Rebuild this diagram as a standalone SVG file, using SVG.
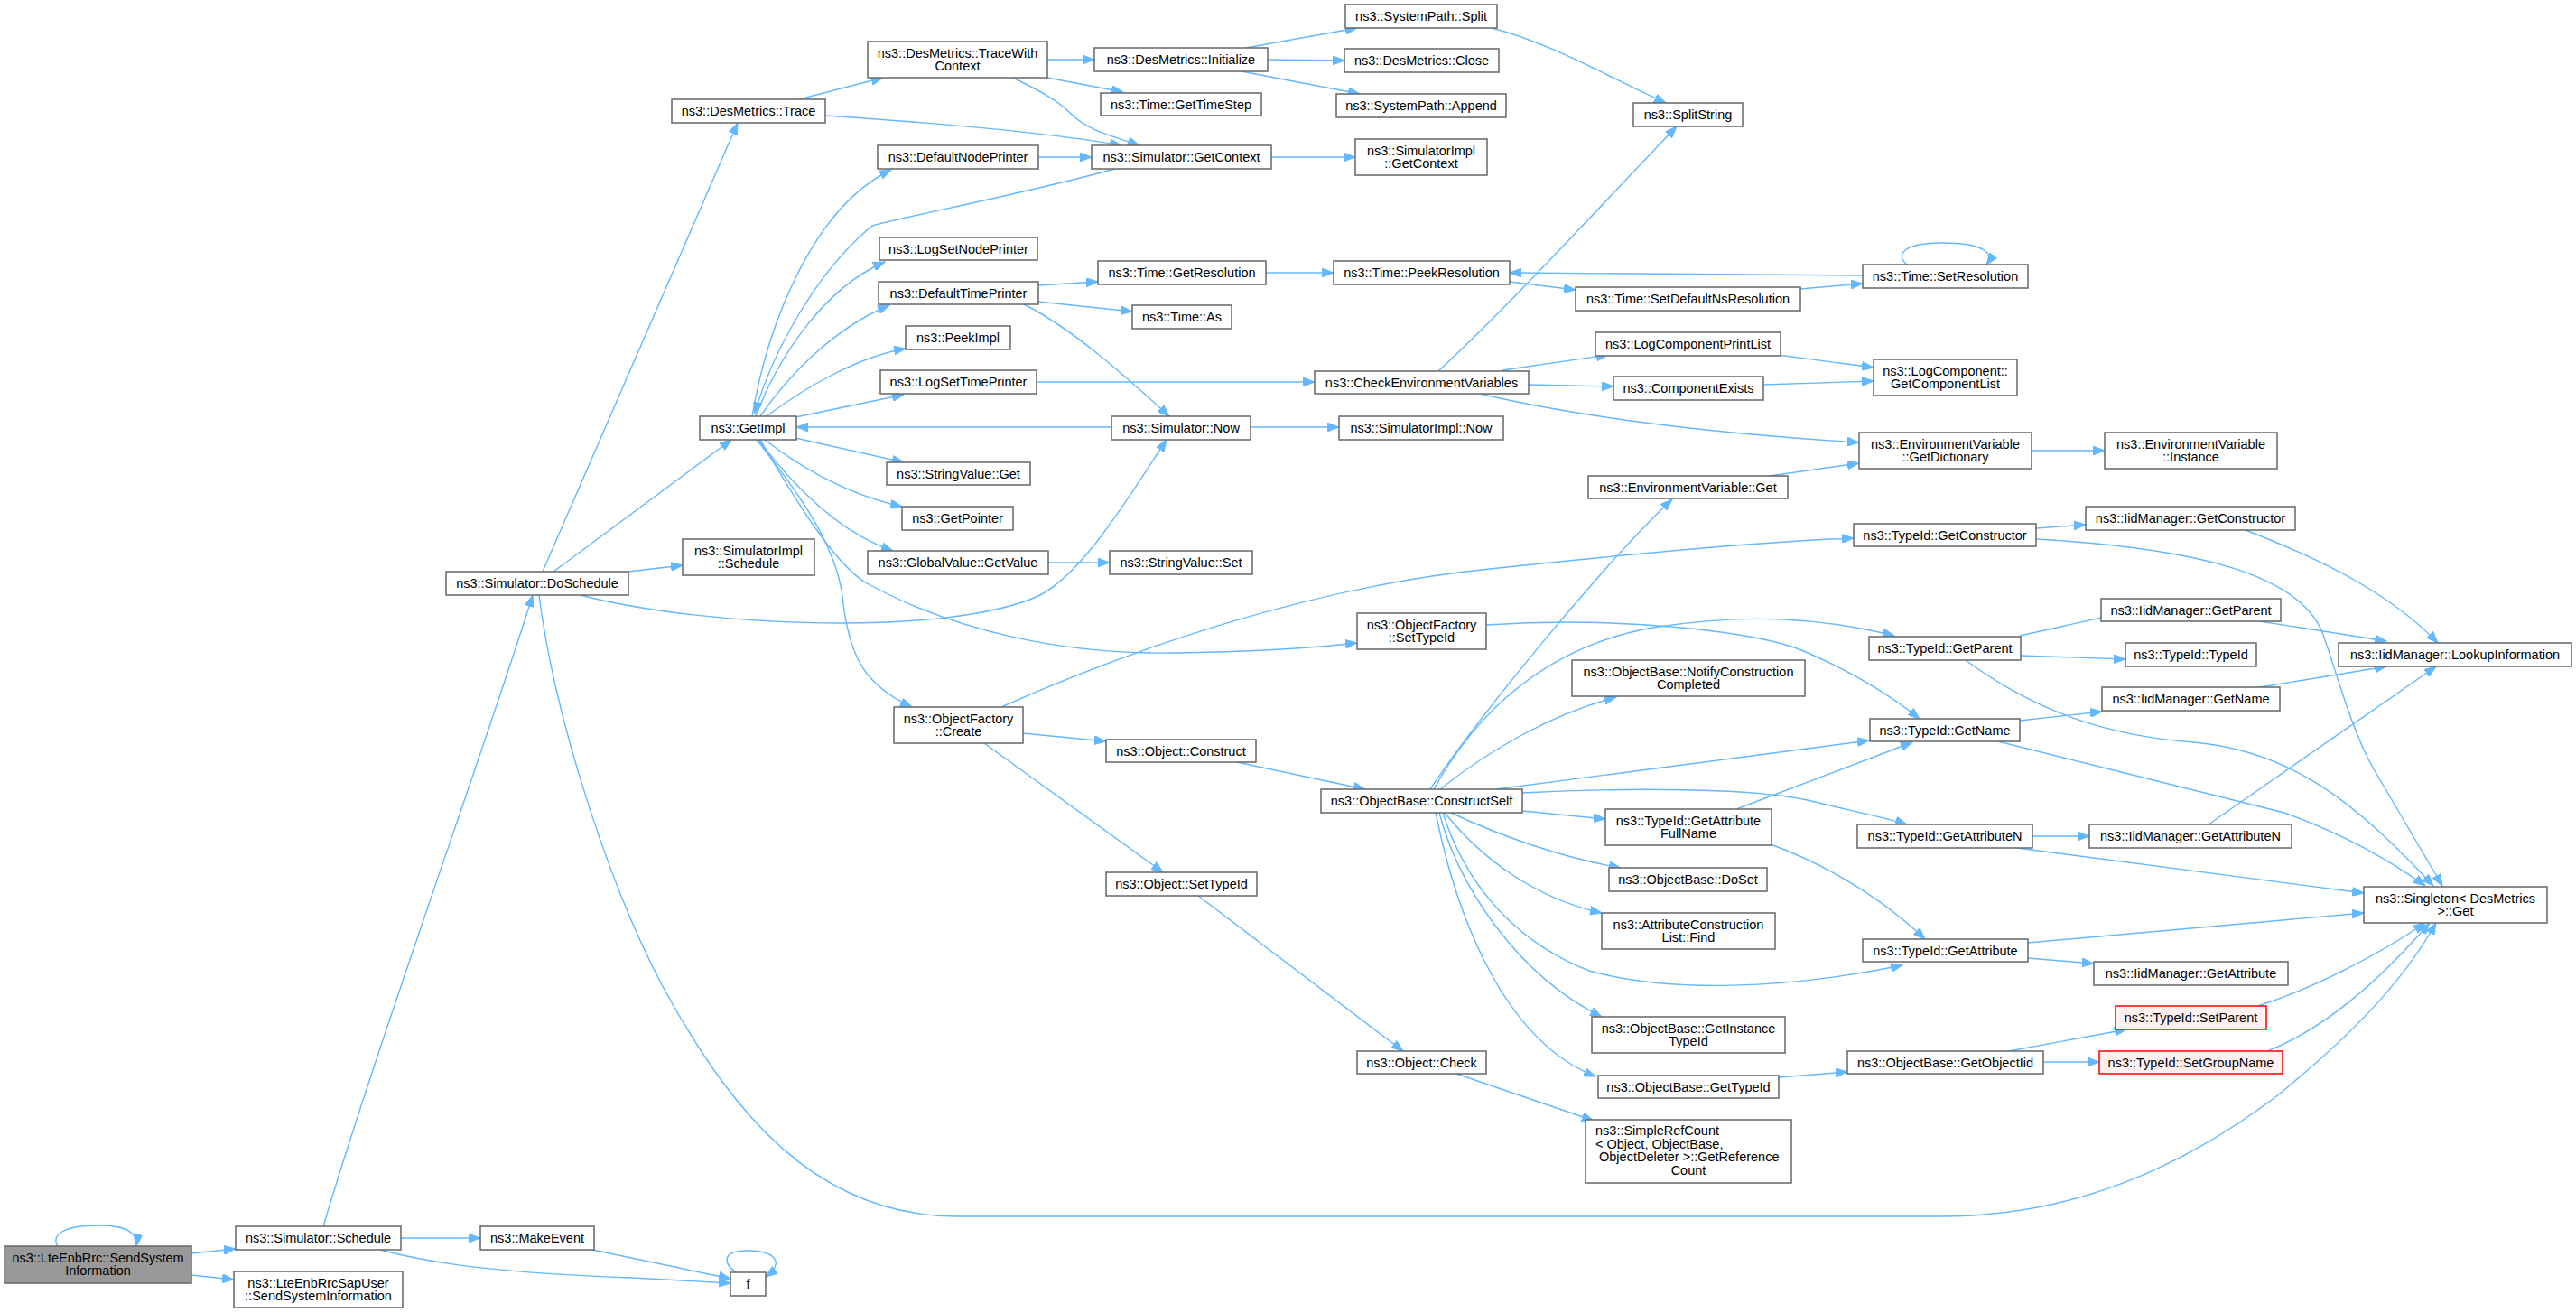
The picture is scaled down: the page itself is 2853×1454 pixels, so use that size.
<svg xmlns="http://www.w3.org/2000/svg" width="2853" height="1454" viewBox="0 0 2853 1454">
<style>
.n rect{fill:#fff;stroke:#666;stroke-width:1.5}
.n.root rect{fill:#999}
.n.red rect{fill:#FFF0F0;stroke:#F00}
.n text{font-family:"Liberation Sans",Arial,sans-serif;font-size:14.5px;fill:#000;text-anchor:middle}
.n text.l{text-anchor:start}
.e path{fill:none;stroke:#63B8FF;stroke-width:1.4;marker-end:url(#a)}
</style>
<defs>
<marker id="a" markerUnits="userSpaceOnUse" markerWidth="14" markerHeight="10" refX="13" refY="5" orient="auto"><path d="M0,0 L13,5 L0,10 z" fill="#63B8FF" stroke="#63B8FF" stroke-width="1"/></marker>
</defs>
<rect width="2853" height="1454" fill="#fff"/>
<g id="edges" class="e">
<path d="M64,1380 C56,1368 70,1357 108,1357 C140,1357 153,1365 151,1380"/>
<path d="M212,1388 L261,1383"/>
<path d="M212,1412 L259,1417"/>
<path d="M358,1358 C420,1150 540,820 590,659"/>
<path d="M444,1371 L532,1371"/>
<path d="M421,1384 C480,1400 560,1410 700,1415 L809,1421"/>
<path d="M656,1384 L809,1416"/>
<path d="M815,1409 C800,1398 800,1385 828,1385 C858,1385 870,1398 848,1414"/>
<path d="M601,633 L817,136"/>
<path d="M613,633 L810,487"/>
<path d="M696,633 L756,626"/>
<path d="M643,659 C780,695 1050,705 1150,660 C1200,635 1250,550 1292,487"/>
<path d="M597,659 C615,800 680,1000 746,1114 C810,1225 900,1347 1060,1347 L2150,1347 C2300,1347 2420,1290 2520,1215 C2600,1150 2660,1090 2698,1022"/>
<path d="M833,461 C850,360 900,230 987,188"/>
<path d="M837,461 C860,400 910,320 980,290"/>
<path d="M842,461 C870,420 920,365 985,338"/>
<path d="M849,461 C890,430 950,395 1003,386"/>
<path d="M881,462 L1001,437"/>
<path d="M1235,187 C1120,218 1000,240 966,250 C905,300 855,390 836,458"/>
<path d="M1231,473 L882,473"/>
<path d="M881,485 L1001,512"/>
<path d="M847,487 C890,520 940,548 999,561"/>
<path d="M840,487 C880,540 930,590 989,610"/>
<path d="M838,487 C880,540 925,600 933,660 C940,730 960,760 1010,783"/>
<path d="M842,487 C890,570 930,630 962,647 C1060,700 1180,725 1300,723 C1380,722 1450,718 1503,712"/>
<path d="M881,111 L978,86"/>
<path d="M914,128 C1020,135 1150,145 1242,161"/>
<path d="M1160,66 L1212,66"/>
<path d="M1160,86 L1244,102"/>
<path d="M1122,86 C1150,100 1170,110 1185,125 C1205,145 1230,150 1262,161"/>
<path d="M1380,53 L1503,31"/>
<path d="M1404,66 L1489,67"/>
<path d="M1375,79 L1506,104"/>
<path d="M1408,174 L1501,174"/>
<path d="M1652,31 C1720,48 1790,90 1845,114"/>
<path d="M1150,174 L1209,174"/>
<path d="M1150,316 L1216,312"/>
<path d="M1150,334 L1254,345"/>
<path d="M1134,337 C1190,365 1250,420 1295,461"/>
<path d="M1402,302 L1477,302"/>
<path d="M1672,312 L1745,321"/>
<path d="M1994,320 L2063,314"/>
<path d="M2063,305 L1672,302"/>
<path d="M2112,293 C2100,283 2105,269 2152,269 C2195,269 2210,280 2200,293"/>
<path d="M1148,423 L1456,423"/>
<path d="M1593,411 C1680,330 1780,220 1857,140"/>
<path d="M1664,410 L1781,393"/>
<path d="M1693,426 L1787,428"/>
<path d="M1639,436 C1750,462 1900,480 2059,490"/>
<path d="M1969,393 L2075,407"/>
<path d="M1953,426 L2075,422"/>
<path d="M1385,473 L1483,473"/>
<path d="M2250,499 L2331,499"/>
<path d="M1960,527 L2059,513"/>
<path d="M1161,623 L1229,623"/>
<path d="M1109,783 C1250,720 1450,650 1650,630 C1800,614 1950,600 2053,596"/>
<path d="M1133,812 L1225,821"/>
<path d="M1090,823 L1288,966"/>
<path d="M1646,692 C1800,682 1950,700 2000,722 C2060,748 2100,775 2126,796"/>
<path d="M1584,874 C1640,790 1780,620 1852,553"/>
<path d="M1588,874 C1640,780 1720,715 1830,695 C1940,678 2020,685 2098,704"/>
<path d="M1595,874 C1650,830 1720,790 1790,772"/>
<path d="M1657,874 L2070,820"/>
<path d="M1686,878 C1800,872 1950,872 2010,888 C2060,900 2090,906 2112,913"/>
<path d="M1686,898 L1778,907"/>
<path d="M1607,900 C1660,925 1730,950 1795,961"/>
<path d="M1600,900 C1640,950 1700,995 1774,1011"/>
<path d="M1598,900 C1620,970 1670,1040 1760,1075 C1850,1100 1980,1095 2107,1069"/>
<path d="M1594,900 C1615,980 1680,1080 1774,1126"/>
<path d="M1590,900 C1610,1000 1660,1150 1767,1192"/>
<path d="M1923,896 L2118,822"/>
<path d="M1961,935 C2030,960 2090,1000 2132,1040"/>
<path d="M2255,585 L2310,581"/>
<path d="M2255,597 C2430,607 2545,635 2572,700 C2588,745 2605,810 2628,850 L2705,981"/>
<path d="M2237,704 L2345,680"/>
<path d="M2238,726 L2354,730"/>
<path d="M2177,731 C2250,785 2330,815 2430,822 C2540,832 2610,890 2695,981"/>
<path d="M2237,798 L2328,788"/>
<path d="M2213,821 L2530,900 C2600,925 2650,955 2686,981"/>
<path d="M2487,587 C2580,623 2650,660 2700,712"/>
<path d="M2503,688 L2643,710"/>
<path d="M2503,761 L2643,738"/>
<path d="M2446,913 L2698,738"/>
<path d="M2251,926 L2314,926"/>
<path d="M2234,939 L2618,989"/>
<path d="M2246,1044 L2618,1011"/>
<path d="M2246,1061 L2319,1067"/>
<path d="M2225,1164 L2355,1140"/>
<path d="M2263,1176 L2325,1176"/>
<path d="M2501,1114 C2560,1095 2630,1060 2686,1022"/>
<path d="M2511,1164 C2580,1137 2640,1080 2691,1022"/>
<path d="M1970,1193 L2046,1187"/>
<path d="M1327,992 L1554,1164"/>
<path d="M1613,1189 L1765,1241"/>
<path d="M1370,844 L1512,874"/>
</g>
<g id="n_root" class="n root"><rect x="5" y="1380" width="207" height="41"/><text x="108.5" y="1398">ns3::LteEnbRrc::SendSystem</text><text x="108.5" y="1412">Information</text></g>
<g id="n_sched" class="n"><rect x="261" y="1358" width="183" height="26"/><text x="352.5" y="1376">ns3::Simulator::Schedule</text></g>
<g id="n_sapuser" class="n"><rect x="259" y="1408" width="187" height="40"/><text x="352.5" y="1426">ns3::LteEnbRrcSapUser</text><text x="352.5" y="1440">::SendSystemInformation</text></g>
<g id="n_doschedule" class="n"><rect x="494" y="633" width="202" height="26"/><text x="595" y="651">ns3::Simulator::DoSchedule</text></g>
<g id="n_makeevent" class="n"><rect x="532" y="1358" width="126" height="26"/><text x="595" y="1376">ns3::MakeEvent</text></g>
<g id="n_f" class="n"><rect x="809" y="1409" width="39" height="26"/><text x="828.5" y="1427">f</text></g>
<g id="n_trace" class="n"><rect x="744" y="110" width="170" height="26"/><text x="829" y="128">ns3::DesMetrics::Trace</text></g>
<g id="n_getimpl" class="n"><rect x="775" y="461" width="107" height="26"/><text x="828.5" y="479">ns3::GetImpl</text></g>
<g id="n_simimplsched" class="n"><rect x="756" y="597" width="146" height="40"/><text x="829" y="615">ns3::SimulatorImpl</text><text x="829" y="629">::Schedule</text></g>
<g id="n_tracewc" class="n"><rect x="961" y="46" width="199" height="40"/><text x="1060.5" y="64">ns3::DesMetrics::TraceWith</text><text x="1060.5" y="78">Context</text></g>
<g id="n_defnode" class="n"><rect x="972" y="161" width="178" height="26"/><text x="1061" y="179">ns3::DefaultNodePrinter</text></g>
<g id="n_logsetnode" class="n"><rect x="974" y="263" width="175" height="25"/><text x="1061.5" y="281">ns3::LogSetNodePrinter</text></g>
<g id="n_deftime" class="n"><rect x="973" y="312" width="177" height="25"/><text x="1061.5" y="330">ns3::DefaultTimePrinter</text></g>
<g id="n_peekimpl" class="n"><rect x="1003" y="361" width="116" height="26"/><text x="1061" y="379">ns3::PeekImpl</text></g>
<g id="n_logsettime" class="n"><rect x="975" y="410" width="173" height="26"/><text x="1061.5" y="428">ns3::LogSetTimePrinter</text></g>
<g id="n_strget" class="n"><rect x="982" y="512" width="159" height="25"/><text x="1061.5" y="530">ns3::StringValue::Get</text></g>
<g id="n_getpointer" class="n"><rect x="999" y="561" width="123" height="26"/><text x="1060.5" y="579">ns3::GetPointer</text></g>
<g id="n_gvget" class="n"><rect x="961" y="610" width="200" height="26"/><text x="1061" y="628">ns3::GlobalValue::GetValue</text></g>
<g id="n_ofcreate" class="n"><rect x="990" y="783" width="143" height="40"/><text x="1061.5" y="801">ns3::ObjectFactory</text><text x="1061.5" y="815">::Create</text></g>
<g id="n_init" class="n"><rect x="1212" y="53" width="192" height="26"/><text x="1308" y="71">ns3::DesMetrics::Initialize</text></g>
<g id="n_timestep" class="n"><rect x="1219" y="103" width="178" height="25"/><text x="1308" y="121">ns3::Time::GetTimeStep</text></g>
<g id="n_simgetctx" class="n"><rect x="1209" y="161" width="199" height="26"/><text x="1308.5" y="179">ns3::Simulator::GetContext</text></g>
<g id="n_getres" class="n"><rect x="1216" y="289" width="186" height="26"/><text x="1309" y="307">ns3::Time::GetResolution</text></g>
<g id="n_timeas" class="n"><rect x="1254" y="338" width="110" height="26"/><text x="1309" y="356">ns3::Time::As</text></g>
<g id="n_simnow" class="n"><rect x="1231" y="461" width="154" height="26"/><text x="1308" y="479">ns3::Simulator::Now</text></g>
<g id="n_strset" class="n"><rect x="1229" y="610" width="158" height="26"/><text x="1308" y="628">ns3::StringValue::Set</text></g>
<g id="n_objconstruct" class="n"><rect x="1225" y="819" width="166" height="25"/><text x="1308" y="837">ns3::Object::Construct</text></g>
<g id="n_objsettypeid" class="n"><rect x="1225" y="966" width="167" height="26"/><text x="1308.5" y="984">ns3::Object::SetTypeId</text></g>
<g id="n_split" class="n"><rect x="1490" y="5" width="168" height="26"/><text x="1574" y="23">ns3::SystemPath::Split</text></g>
<g id="n_close" class="n"><rect x="1489" y="54" width="171" height="26"/><text x="1574.5" y="72">ns3::DesMetrics::Close</text></g>
<g id="n_append" class="n"><rect x="1480" y="104" width="188" height="26"/><text x="1574" y="122">ns3::SystemPath::Append</text></g>
<g id="n_simimplctx" class="n"><rect x="1501" y="154" width="146" height="40"/><text x="1574" y="172">ns3::SimulatorImpl</text><text x="1574" y="186">::GetContext</text></g>
<g id="n_peekres" class="n"><rect x="1477" y="289" width="195" height="26"/><text x="1574.5" y="307">ns3::Time::PeekResolution</text></g>
<g id="n_checkenv" class="n"><rect x="1456" y="411" width="237" height="25"/><text x="1574.5" y="429">ns3::CheckEnvironmentVariables</text></g>
<g id="n_simimplnow" class="n"><rect x="1483" y="461" width="182" height="26"/><text x="1574" y="479">ns3::SimulatorImpl::Now</text></g>
<g id="n_ofsettypeid" class="n"><rect x="1503" y="679" width="143" height="40"/><text x="1574.5" y="697">ns3::ObjectFactory</text><text x="1574.5" y="711">::SetTypeId</text></g>
<g id="n_constructself" class="n"><rect x="1463" y="874" width="223" height="26"/><text x="1574.5" y="892">ns3::ObjectBase::ConstructSelf</text></g>
<g id="n_objcheck" class="n"><rect x="1503" y="1164" width="143" height="25"/><text x="1574.5" y="1182">ns3::Object::Check</text></g>
<g id="n_splitstring" class="n"><rect x="1809" y="114" width="121" height="26"/><text x="1869.5" y="132">ns3::SplitString</text></g>
<g id="n_setdefns" class="n"><rect x="1745" y="318" width="249" height="26"/><text x="1869.5" y="336">ns3::Time::SetDefaultNsResolution</text></g>
<g id="n_logcpl" class="n"><rect x="1767" y="368" width="205" height="26"/><text x="1869.5" y="386">ns3::LogComponentPrintList</text></g>
<g id="n_compexists" class="n"><rect x="1787" y="417" width="166" height="26"/><text x="1870" y="435">ns3::ComponentExists</text></g>
<g id="n_envget" class="n"><rect x="1759" y="527" width="221" height="25"/><text x="1869.5" y="545">ns3::EnvironmentVariable::Get</text></g>
<g id="n_notify" class="n"><rect x="1741" y="731" width="258" height="40"/><text x="1870" y="749">ns3::ObjectBase::NotifyConstruction</text><text x="1870" y="763">Completed</text></g>
<g id="n_gafn" class="n"><rect x="1778" y="896" width="184" height="40"/><text x="1870" y="914">ns3::TypeId::GetAttribute</text><text x="1870" y="928">FullName</text></g>
<g id="n_doset" class="n"><rect x="1782" y="961" width="175" height="26"/><text x="1869.5" y="979">ns3::ObjectBase::DoSet</text></g>
<g id="n_acfind" class="n"><rect x="1774" y="1011" width="192" height="40"/><text x="1870" y="1029">ns3::AttributeConstruction</text><text x="1870" y="1043">List::Find</text></g>
<g id="n_getinst" class="n"><rect x="1763" y="1126" width="214" height="40"/><text x="1870" y="1144">ns3::ObjectBase::GetInstance</text><text x="1870" y="1158">TypeId</text></g>
<g id="n_obgettypeid" class="n"><rect x="1770" y="1191" width="200" height="25"/><text x="1870" y="1209">ns3::ObjectBase::GetTypeId</text></g>
<g id="n_simpleref" class="n"><rect x="1756" y="1240" width="228" height="70"/><text class="l" x="1767" y="1257">ns3::SimpleRefCount</text><text class="l" x="1767" y="1272">&lt; Object, ObjectBase,</text><text class="l" x="1771" y="1286">ObjectDeleter &gt;::GetReference</text><text x="1870" y="1301">Count</text></g>
<g id="n_setres" class="n"><rect x="2063" y="293" width="183" height="26"/><text x="2154.5" y="311">ns3::Time::SetResolution</text></g>
<g id="n_getcomplist" class="n"><rect x="2075" y="398" width="159" height="40"/><text x="2154.5" y="416">ns3::LogComponent::</text><text x="2154.5" y="430">GetComponentList</text></g>
<g id="n_getdict" class="n"><rect x="2059" y="479" width="191" height="40"/><text x="2154.5" y="497">ns3::EnvironmentVariable</text><text x="2154.5" y="511">::GetDictionary</text></g>
<g id="n_tgetctor" class="n"><rect x="2053" y="580" width="202" height="25"/><text x="2154" y="598">ns3::TypeId::GetConstructor</text></g>
<g id="n_tgetparent" class="n"><rect x="2070" y="705" width="168" height="26"/><text x="2154" y="723">ns3::TypeId::GetParent</text></g>
<g id="n_tgetname" class="n"><rect x="2071" y="796" width="166" height="25"/><text x="2154" y="814">ns3::TypeId::GetName</text></g>
<g id="n_tgetattrn" class="n"><rect x="2057" y="913" width="194" height="26"/><text x="2154" y="931">ns3::TypeId::GetAttributeN</text></g>
<g id="n_tgetattr" class="n"><rect x="2063" y="1040" width="183" height="25"/><text x="2154.5" y="1058">ns3::TypeId::GetAttribute</text></g>
<g id="n_getobjiid" class="n"><rect x="2046" y="1164" width="217" height="25"/><text x="2154.5" y="1182">ns3::ObjectBase::GetObjectIid</text></g>
<g id="n_instance" class="n"><rect x="2331" y="479" width="191" height="40"/><text x="2426.5" y="497">ns3::EnvironmentVariable</text><text x="2426.5" y="511">::Instance</text></g>
<g id="n_iidgetctor" class="n"><rect x="2310" y="561" width="232" height="26"/><text x="2426" y="579">ns3::IidManager::GetConstructor</text></g>
<g id="n_iidgetparent" class="n"><rect x="2327" y="663" width="199" height="25"/><text x="2426.5" y="681">ns3::IidManager::GetParent</text></g>
<g id="n_typeidctor" class="n"><rect x="2354" y="712" width="145" height="26"/><text x="2426.5" y="730">ns3::TypeId::TypeId</text></g>
<g id="n_iidgetname" class="n"><rect x="2328" y="761" width="197" height="26"/><text x="2426.5" y="779">ns3::IidManager::GetName</text></g>
<g id="n_iidgetattrn" class="n"><rect x="2314" y="913" width="224" height="26"/><text x="2426" y="931">ns3::IidManager::GetAttributeN</text></g>
<g id="n_iidgetattr" class="n"><rect x="2319" y="1065" width="215" height="26"/><text x="2426.5" y="1083">ns3::IidManager::GetAttribute</text></g>
<g id="n_setparent" class="n red"><rect x="2343" y="1114" width="167" height="26"/><text x="2426.5" y="1132">ns3::TypeId::SetParent</text></g>
<g id="n_setgroup" class="n red"><rect x="2325" y="1164" width="203" height="25"/><text x="2426.5" y="1182">ns3::TypeId::SetGroupName</text></g>
<g id="n_lookup" class="n"><rect x="2590" y="712" width="258" height="26"/><text x="2719" y="730">ns3::IidManager::LookupInformation</text></g>
<g id="n_singleton" class="n"><rect x="2618" y="982" width="203" height="40"/><text x="2719.5" y="1000">ns3::Singleton&lt; DesMetrics</text><text x="2719.5" y="1014">&gt;::Get</text></g>
</svg>
